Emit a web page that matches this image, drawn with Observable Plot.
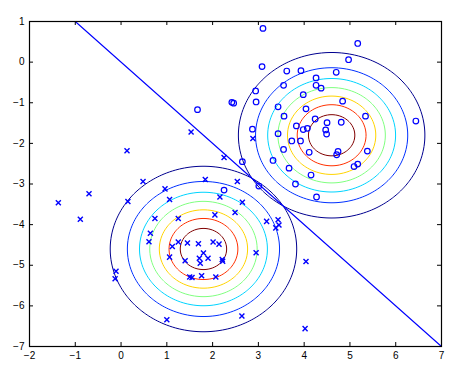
<!DOCTYPE html>
<html><head><meta charset="utf-8">
<script src="https://cdn.jsdelivr.net/npm/d3@7"></script>
<script src="https://cdn.jsdelivr.net/npm/@observablehq/plot@0.6"></script>
<style>body{margin:0;background:#fff}</style>
</head><body><div id="chart"></div>
<script>
// class 1 (circles)
const circleX = [3.10,5.17,4.97,3.08,3.62,3.93,4.70,4.26,3.55,4.26,4.37,2.94,3.98,2.95,4.84,3.43,4.04,3.56,5.34,4.24,4.50,4.81,6.44,3.83,4.07,3.98,4.47,4.49,2.87,3.43,3.73,3.92,3.55,4.11,4.74,4.71,5.38,3.32,2.65,5.17,5.09,3.67,4.15,3.81,4.27,3.01,2.25,1.67,2.42,2.46];
const circleY = [0.83,0.46,0.06,-0.11,-0.22,-0.21,-0.25,-0.39,-0.57,-0.57,-0.64,-0.71,-0.80,-0.98,-0.96,-1.10,-1.15,-1.33,-1.33,-1.40,-1.49,-1.48,-1.45,-1.57,-1.63,-1.66,-1.67,-1.77,-1.65,-1.76,-1.94,-1.94,-2.15,-2.22,-2.20,-2.28,-2.19,-2.42,-2.45,-2.51,-2.57,-2.61,-2.78,-3.00,-3.32,-3.05,-3.15,-1.17,-0.99,-1.01];
// class 0 (crosses)
const crossX = [0.13,1.53,2.25,2.88,0.48,1.84,2.54,0.96,-1.37,-0.70,-0.89,0.15,1.06,2.16,2.65,0.74,1.25,2.05,2.49,3.18,3.43,3.45,3.38,0.64,0.61,1.12,1.25,1.45,1.69,2.01,2.14,1.80,1.06,1.40,1.71,1.90,1.73,2.21,2.22,2.95,-0.11,-0.13,1.50,1.55,1.76,2.07,1.00,2.64,4.04,4.02];
const crossY = [-2.18,-1.72,-2.35,-1.88,-2.94,-2.89,-2.94,-3.12,-3.46,-3.24,-3.87,-3.43,-3.38,-3.32,-3.45,-3.85,-3.85,-3.76,-3.70,-3.92,-3.88,-4.01,-4.08,-4.21,-4.42,-4.54,-4.43,-4.45,-4.47,-4.43,-4.48,-4.70,-4.80,-4.89,-4.83,-4.83,-4.95,-4.86,-4.90,-4.69,-5.15,-5.33,-5.29,-5.30,-5.26,-5.29,-6.34,-6.25,-4.91,-6.56];
// Gaussian model (shared identity covariance)
const meanX = [1.8, 4.6];
const meanY = [-4.6, -1.8];
const sigma = 1;
const levels = [0.02, 0.04, 0.06, 0.08, 0.10, 0.12, 0.14];
// decision boundary
const boundaryX = [-1, 7];
const boundaryY = [1, -7];
const xTicks = [-2, -1, 0, 1, 2, 3, 4, 5, 6, 7];
const yTicks = [-7, -6, -5, -4, -3, -2, -1, 0, 1];

const jet = ["#00008f", "#0030ff", "#00d4ff", "#80ff80", "#ffd400", "#ff3000", "#800000"];

const W = 467, H = 376, mL = 29, mR = 26, mT = 21, mB = 30;
const frameW = W - mL - mR, frameH = H - mT - mB, tick = 4;

const circles = circleX.map((x, i) => ({x, y: circleY[i]}));
const crosses = crossX.map((x, i) => ({x, y: crossY[i]}));
const boundary = boundaryX.map((x, i) => ({x, y: boundaryY[i]}));
const gauss = (mx, my) => (x, y) =>
  Math.exp(-((x - mx) ** 2 + (y - my) ** 2) / (2 * sigma * sigma)) / (2 * Math.PI * sigma * sigma);

const contourMarks = meanX.map((mx, k) =>
  Plot.contour({
    x1: -2, x2: 7, y1: -7, y2: 1,
    value: gauss(mx, meanY[k]),
    thresholds: levels,
    stroke: "value",
    fill: "none",
    strokeWidth: 1,
    pixelSize: 1
  })
);

const chart = Plot.plot({
  width: W,
  height: H,
  marginLeft: mL,
  marginRight: mR,
  marginTop: mT,
  marginBottom: mB,
  x: {domain: [-2, 7], label: null},
  y: {domain: [-7, 1], label: null},
  color: {type: "ordinal", domain: levels, range: jet},
  style: {fontFamily: "'Liberation Sans', Arial, sans-serif", fontSize: "10px", color: "black", background: "white"},
  marks: [
    ...contourMarks,
    Plot.line(boundary, {x: "x", y: "y", stroke: "#0000ff", strokeWidth: 1.1}),
    Plot.dot(circles, {x: "x", y: "y", r: 2.8, stroke: "#0000ff", strokeWidth: 1.2, fill: "none"}),
    Plot.dot(crosses, {x: "x", y: "y", symbol: "times", r: 2.4, stroke: "#0000ff", strokeWidth: 1.4}),
    Plot.tickX(xTicks, {x: d => d, insetTop: frameH - tick, stroke: "black"}),
    Plot.tickX(xTicks, {x: d => d, insetBottom: frameH - tick, stroke: "black"}),
    Plot.tickY(yTicks, {y: d => d, insetRight: frameW - tick, stroke: "black"}),
    Plot.tickY(yTicks, {y: d => d, insetLeft: frameW - tick, stroke: "black"}),
    Plot.frame({stroke: "black", strokeWidth: 1.2}),
    Plot.axisX(xTicks, {anchor: "bottom", tickSize: 0, tickPadding: 5, label: null}),
    Plot.axisY(yTicks, {anchor: "left", tickSize: 0, tickPadding: 5, label: null})
  ]
});
document.getElementById("chart").appendChild(chart);
</script>
</body></html>
